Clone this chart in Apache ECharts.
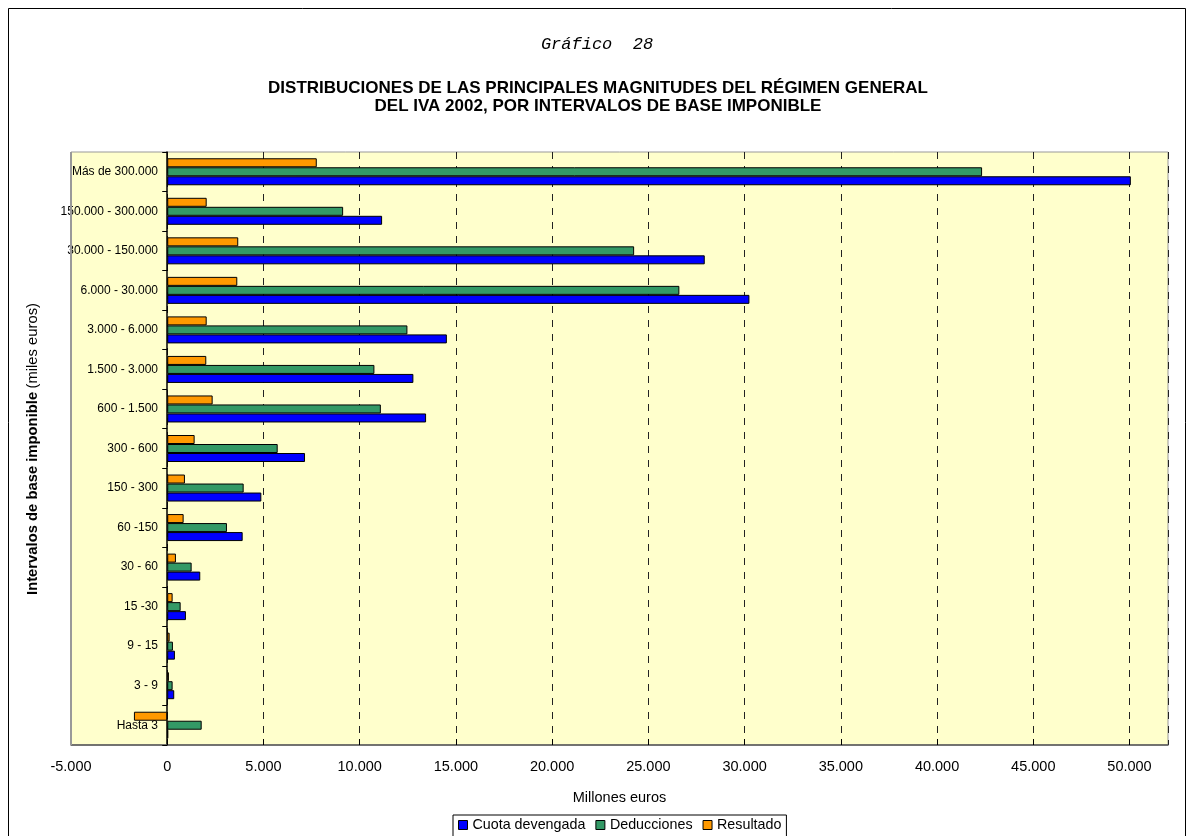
<!DOCTYPE html>
<html>
<head>
<meta charset="utf-8">
<script src="https://cdn.jsdelivr.net/npm/echarts@6/dist/echarts.min.js"></script>
<style>
html,body{margin:0;padding:0;background:#fff;}
#chart{width:1194px;height:836px;}
</style>
</head>
<body>
<div id="chart"></div>
<script>
const categories = ['Hasta 3', '3 - 9', '9 - 15', '15 -30', '30 - 60', '60 -150', '150 - 300', '300 - 600', '600 - 1.500', '1.500 - 3.000', '3.000 - 6.000', '6.000 - 30.000', '30.000 - 150.000', '150.000 - 300.000', 'Más de 300.000'];
const cuotaDevengada = [50, 364, 400, 972, 1716, 3920, 4890, 7160, 13450, 12790, 14530, 30250, 27930, 11165, 50070];
const deducciones = [1790, 280, 296, 697, 1268, 3104, 3972, 5740, 11100, 10765, 12480, 26610, 24260, 9140, 42340];
const resultado = [-1730, 88, 125, 280, 452, 852, 920, 1424, 2360, 2030, 2050, 3640, 3690, 2050, 7770];
const seriesNames = ['Cuota devengada', 'Deducciones', 'Resultado'];
const seriesColors = ['#0000FF', '#339966', '#FF9900'];
const xTicks = {min: -5000, max: 52000, step: 5000};

function fmt(v) {
  const s = Math.abs(v).toString().replace(/\B(?=(\d{3})+(?!\d))/g, '.');
  return (v < 0 ? '-' : '') + s;
}

const chart = echarts.init(document.getElementById('chart'), null, {renderer: 'canvas'});
const font = 'Liberation Sans, Arial, sans-serif';
const dataSets = [cuotaDevengada, deducciones, resultado];

// draw order: Resultado on top of each group, Cuota at the bottom
const drawOrder = [2, 1, 0];

const gridBox = {left: 71, right: 26, top: 152, bottom: 91};

const option = {
  animation: false,
  backgroundColor: '#ffffff',
  textStyle: {fontFamily: font, color: '#000'},
  legend: {
    data: seriesNames,
    left: 453,
    top: 815,
    orient: 'horizontal',
    icon: 'rect',
    itemWidth: 9,
    itemHeight: 9,
    itemGap: 10,
    padding: [3, 5, 6, 5],
    borderColor: '#000',
    borderWidth: 1,
    backgroundColor: '#fff',
    textStyle: {fontFamily: font, fontSize: 14.3, color: '#000', padding: [0, 0, 0, 0]},
    itemStyle: {borderColor: '#000', borderWidth: 1}
  },
  grid: {
    left: gridBox.left,
    right: gridBox.right,
    top: gridBox.top,
    bottom: gridBox.bottom,
    containLabel: false,
    outerBoundsMode: 'none',
    show: true,
    backgroundColor: '#FFFFCC',
    borderColor: '#999',
    borderWidth: 1
  },
  xAxis: {
    type: 'value',
    min: xTicks.min,
    max: xTicks.max,
    interval: xTicks.step,
    name: 'Millones euros',
    nameLocation: 'middle',
    nameGap: 45,
    nameTextStyle: {fontFamily: font, fontSize: 14.5, color: '#000'},
    axisLine: {show: true, lineStyle: {color: '#555', width: 1.5}},
    axisTick: {show: true, inside: true, length: 6, lineStyle: {color: '#000'}},
    axisLabel: {
      fontFamily: font, fontSize: 14.5, color: '#000', margin: 14,
      showMaxLabel: false,
      formatter: function (v) { return v > 50000 ? '' : fmt(v); }
    },
    splitLine: {show: true, lineStyle: {color: '#222', type: [7, 7], width: 1}}
  },
  yAxis: {
    type: 'category',
    data: categories,
    axisLine: {show: true, onZero: true, lineStyle: {color: '#000', width: 1.5}},
    axisTick: {show: true, length: 5, alignWithLabel: false, lineStyle: {color: '#000'}},
    axisLabel: {fontFamily: font, fontSize: 12, color: '#000', margin: -87},
    splitLine: {show: false}
  },
  graphic: [
    {
      type: 'rect',
      shape: {x: 8.5, y: 8.5, width: 1177, height: 900},
      style: {fill: 'none', stroke: '#000', lineWidth: 1},
      silent: true,
      z: 100
    },
    {
      type: 'line',
      shape: {x1: 71, y1: 152, x2: 71, y2: 745},
      style: {stroke: '#999', lineWidth: 2},
      silent: true,
      z: 60
    },
    {
      type: 'text',
      x: 597,
      y: 44,
      style: {
        text: 'Gráfico  28',
        align: 'center',
        verticalAlign: 'middle',
        font: 'italic 17px "Liberation Mono", "Courier New", monospace',
        fill: '#000'
      }
    },
    {
      type: 'text',
      x: 598,
      y: 97,
      style: {
        text: 'DISTRIBUCIONES DE LAS PRINCIPALES MAGNITUDES DEL RÉGIMEN GENERAL\nDEL IVA 2002, POR INTERVALOS DE BASE IMPONIBLE',
        align: 'center',
        verticalAlign: 'middle',
        font: 'bold 17px "Liberation Sans", Arial, sans-serif',
        lineHeight: 18,
        fill: '#000'
      }
    },
    {
      type: 'text',
      x: 33,
      y: 449,
      rotation: Math.PI / 2,
      style: {
        text: '{a|Intervalos de base imponible} {b|(miles euros)}',
        align: 'center',
        verticalAlign: 'middle',
        rich: {
          a: {fontFamily: font, fontSize: 14.8, fontWeight: 'bold', fill: '#000'},
          b: {fontFamily: font, fontSize: 14.8, fontWeight: 'normal', fill: '#000'}
        }
      }
    }
  ],
  series: drawOrder.map(function (i) {
    return {
      name: seriesNames[i],
      type: 'bar',
      data: dataSets[i],
      barWidth: 9,
      barGap: '0%',
      itemStyle: {color: seriesColors[i], borderColor: '#000', borderWidth: 1}
    };
  })
};

chart.setOption(option);
</script>
</body>
</html>
